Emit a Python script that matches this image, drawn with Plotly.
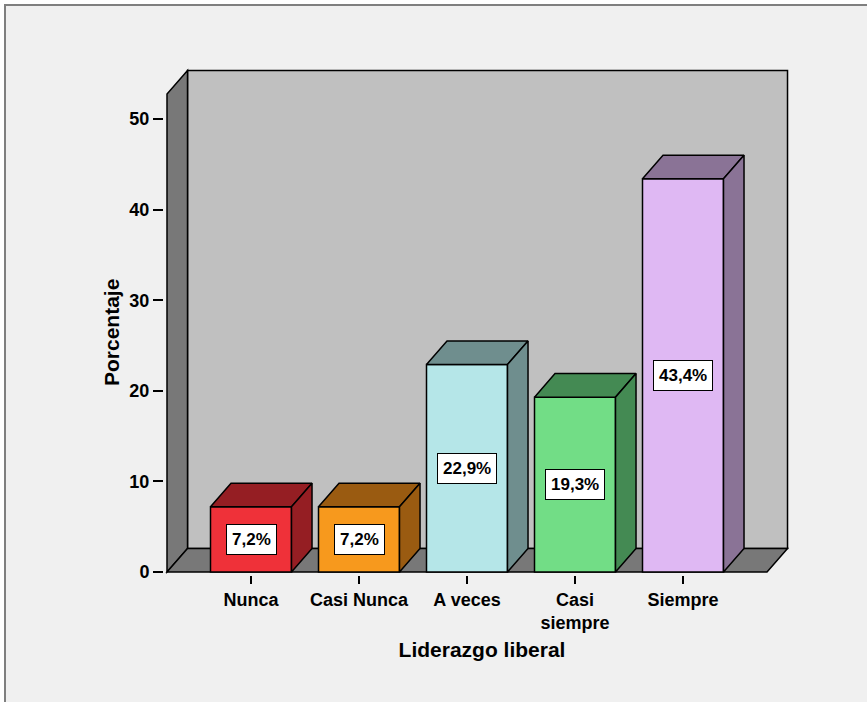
import plotly.graph_objects as go

# --- data -----------------------------------------------------------------
categories = ["Nunca", "Casi Nunca", "A veces", "Casi<br>siempre", "Siempre"]
percentages = [7.2, 7.2, 22.9, 19.3, 43.4]
y_ticks = [0, 10, 20, 30, 40, 50]

front_colors = ["#EF3139", "#F7991D", "#B5E6E8", "#72DD86", "#DFB8F3"]
shade_colors = ["#951E23", "#9A5B11", "#6F8E8E", "#448A53", "#8A7396"]

# --- geometry of the pseudo-3D box (in axis units) -------------------------
W = 867
H = 702
PLOT_L, PLOT_R, PLOT_T, PLOT_B = 164, 800, 60, 575   # plot area in pixels
CAT0_PX, CAT_STEP_PX = 251, 108                      # first category centre, spacing
ZERO_PX, UNIT_PX = 572, 9.06                         # value 0 and px per unit

def xv(px):
    return (px - CAT0_PX) / CAT_STEP_PX

def yv(px):
    return (ZERO_PX - px) / UNIT_PX

def paper_x(px):
    return (px - PLOT_L) / (PLOT_R - PLOT_L)

def paper_y(px):
    return (PLOT_B - px) / (PLOT_B - PLOT_T)

DX = 0.19          # depth offset along x (category units)
DY = 2.6           # depth offset along y (percent units)
BAR_HALF = 0.375   # half width of the front face
FLOOR_L = xv(167)
FLOOR_R = xv(767)
WALL_TOP = yv(94)

EDGE = dict(color="black", width=1.5)
FONT = "Liberation Sans, Arial, sans-serif"


def poly(pts):
    return "M " + " L ".join(f"{x},{y}" for x, y in pts) + " Z"


shapes = []

# outer frame of the chart window
shapes.append(dict(
    type="rect", xref="paper", yref="paper", layer="below",
    x0=paper_x(5), x1=paper_x(880), y0=paper_y(715), y1=paper_y(5),
    fillcolor="#F0F0F0", line=dict(color="#7F7F7F", width=2),
))

# back wall
shapes.append(dict(
    type="path", xref="x", yref="y", layer="below",
    path=poly([(FLOOR_L + DX, DY), (FLOOR_R + DX, DY),
               (FLOOR_R + DX, WALL_TOP + DY), (FLOOR_L + DX, WALL_TOP + DY)]),
    fillcolor="#C0C0C0", line=EDGE,
))
# left side wall
shapes.append(dict(
    type="path", xref="x", yref="y", layer="below",
    path=poly([(FLOOR_L, 0), (FLOOR_L, WALL_TOP),
               (FLOOR_L + DX, WALL_TOP + DY), (FLOOR_L + DX, DY)]),
    fillcolor="#787878", line=EDGE,
))
# floor
shapes.append(dict(
    type="path", xref="x", yref="y", layer="below",
    path=poly([(FLOOR_L, 0), (FLOOR_R, 0), (FLOOR_R + DX, DY), (FLOOR_L + DX, DY)]),
    fillcolor="#787878", line=EDGE,
))

fig = go.Figure()

# front faces of the bars
fig.add_trace(go.Bar(
    x=list(range(len(categories))), y=percentages, width=2 * BAR_HALF,
    marker=dict(color=front_colors, line=EDGE),
    hoverinfo="skip", showlegend=False,
))

# top and side faces of every bar
for i, (v, col) in enumerate(zip(percentages, shade_colors)):
    l, r = i - BAR_HALF, i + BAR_HALF
    top = [(l, v), (r, v), (r + DX, v + DY), (l + DX, v + DY), (l, v)]
    side = [(r, 0), (r + DX, DY), (r + DX, v + DY), (r, v), (r, 0)]
    for face in (top, side):
        fig.add_trace(go.Scatter(
            x=[p[0] for p in face], y=[p[1] for p in face],
            mode="lines", fill="toself", fillcolor=col,
            line=dict(color="black", width=1.5),
            hoverinfo="skip", showlegend=False,
        ))

# value labels in boxes
annotations = []
for i, v in enumerate(percentages):
    annotations.append(dict(
        x=i, y=v / 2, xref="x", yref="y", showarrow=False,
        text="<b>" + f"{v:.1f}".replace(".", ",") + "%</b>",
        font=dict(family=FONT, size=17, color="black"),
        bgcolor="white", bordercolor="black", borderwidth=1, borderpad=5,
    ))

# vertical axis title
annotations.append(dict(
    x=paper_x(111), y=paper_y(333), xref="paper", yref="paper",
    showarrow=False, textangle=-90, xanchor="center", yanchor="middle",
    text="<b>Porcentaje</b>", font=dict(family=FONT, size=21, color="black"),
))

fig.update_layout(
    width=W, height=H,
    margin=dict(l=PLOT_L, r=W - PLOT_R, t=PLOT_T, b=H - PLOT_B),
    paper_bgcolor="white", plot_bgcolor="rgba(0,0,0,0)",
    shapes=shapes, annotations=annotations,
    font=dict(family=FONT, color="black"),
    xaxis=dict(
        range=[xv(PLOT_L), xv(PLOT_R)],
        tickvals=list(range(len(categories))),
        ticktext=["<b>" + c + "</b>" for c in categories],
        tickfont=dict(size=18, color="black"),
        ticks="outside", ticklen=8, tickwidth=2, tickcolor="black",
        showline=False, showgrid=False, zeroline=False,
        title=dict(text="<b>Liderazgo liberal</b>", font=dict(size=21, color="black"),
                   standoff=10),
    ),
    yaxis=dict(
        range=[yv(PLOT_B), yv(PLOT_T)],
        tickvals=y_ticks,
        ticktext=["<b>" + str(t) + "</b>" for t in y_ticks],
        tickfont=dict(size=18, color="black"),
        ticks="outside", ticklen=10, tickwidth=2, tickcolor="black",
        showline=False, showgrid=False, zeroline=False,
    ),
)

fig.write_html("out.html")
